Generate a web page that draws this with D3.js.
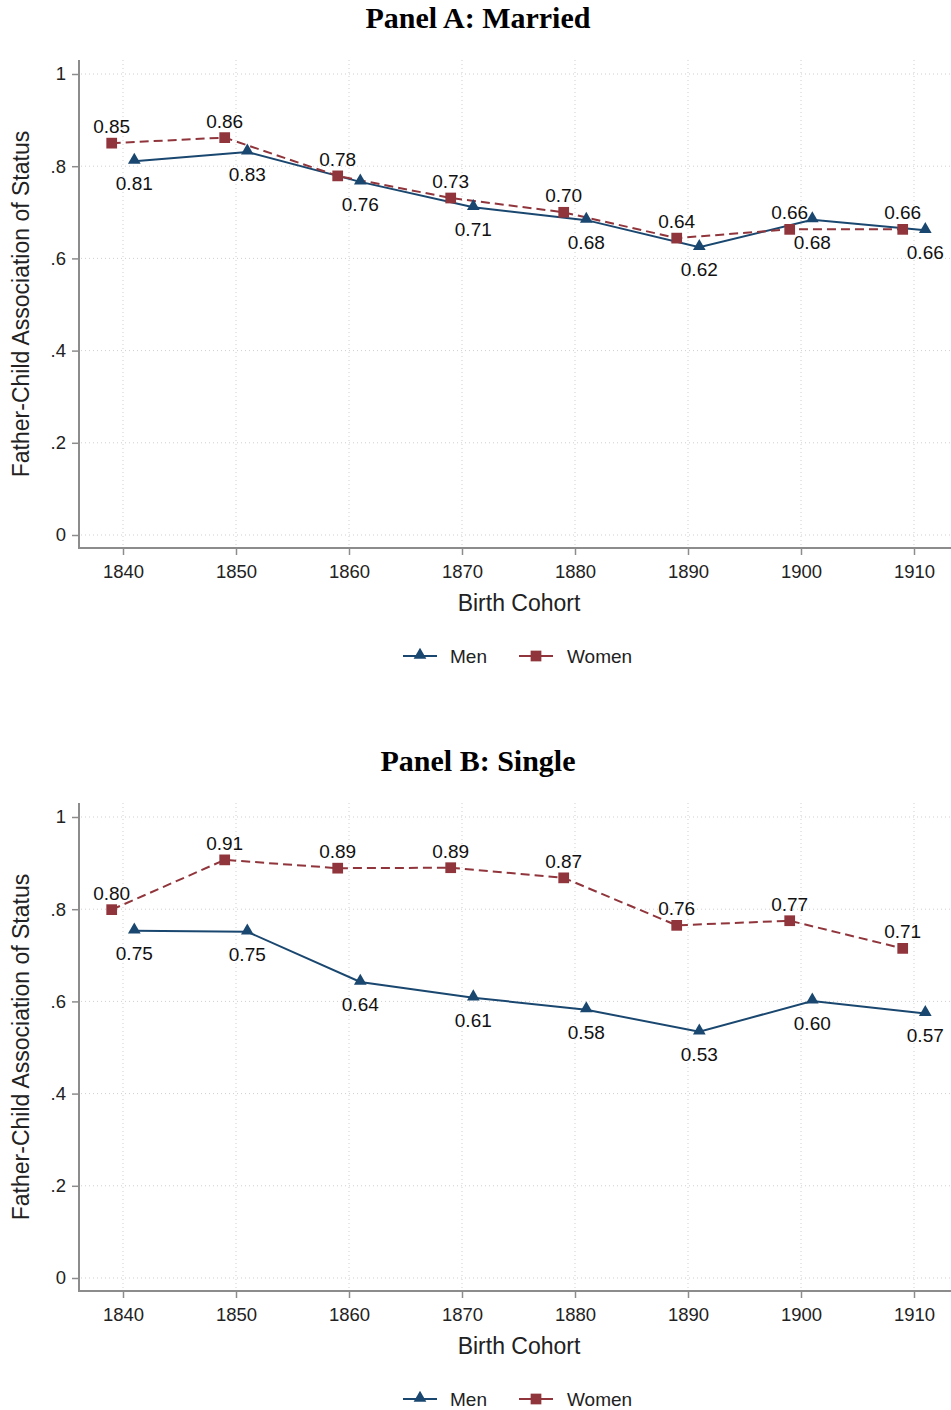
<!DOCTYPE html>
<html>
<head>
<meta charset="utf-8">
<script src="https://cdn.jsdelivr.net/npm/d3@7"></script>
<style>
  body { margin: 0; background: #fff; }
  text { font-family: "Liberation Sans", Arial, sans-serif; }
</style>
</head>
<body>
<div id="chart"></div>
<script>
// Data
const cohorts = [1840, 1850, 1860, 1870, 1880, 1890, 1900, 1910];
const yTicks = [0, 0.2, 0.4, 0.6, 0.8, 1];
const yTickLabels = ["0", ".2", ".4", ".6", ".8", "1"];

const marriedMen   = [0.811, 0.831, 0.766, 0.711, 0.683, 0.624, 0.684, 0.661];
const marriedWomen = [0.850, 0.862, 0.779, 0.731, 0.700, 0.644, 0.663, 0.663];
const marriedMenLabels   = ["0.81", "0.83", "0.76", "0.71", "0.68", "0.62", "0.68", "0.66"];
const marriedWomenLabels = ["0.85", "0.86", "0.78", "0.73", "0.70", "0.64", "0.66", "0.66"];

const singleMen   = [0.753, 0.751, 0.642, 0.608, 0.582, 0.534, 0.601, 0.574];
const singleWomen = [0.799, 0.907, 0.889, 0.890, 0.868, 0.765, 0.775, 0.715];
const singleMenLabels   = ["0.75", "0.75", "0.64", "0.61", "0.58", "0.53", "0.60", "0.57"];
const singleWomenLabels = ["0.80", "0.91", "0.89", "0.89", "0.87", "0.76", "0.77", "0.71"];

const menColor = "#1a476f", womenColor = "#90353b";

const W = 951, H = 1410;
const svg = d3.select("#chart").append("svg")
    .attr("width", W)
    .attr("height", H);

const x = d3.scaleLinear().domain([1840, 1910]).range([123, 914]);

function drawPanel(top, title, men, women, menLabels, womenLabels) {
    const g = svg.append("g").attr("transform", `translate(0,${top})`);
    const y = d3.scaleLinear().domain([0, 1]).range([535, 74]);
    const left = 79, bottom = 548, plotTop = 60, right = W;

    // title
    g.append("text")
        .attr("x", 478).attr("y", 28)
        .attr("text-anchor", "middle")
        .style("font-family", "'Liberation Serif', 'Times New Roman', serif")
        .style("font-weight", "bold")
        .style("font-size", "30px")
        .text(title);

    // grid
    g.selectAll(".hgrid").data(yTicks).enter().append("line")
        .attr("x1", left + 2).attr("x2", right)
        .attr("y1", d => y(d)).attr("y2", d => y(d))
        .attr("stroke", "#cfcfcf").attr("stroke-width", 1)
        .attr("stroke-dasharray", "1,3");
    g.selectAll(".vgrid").data(cohorts).enter().append("line")
        .attr("x1", d => x(d)).attr("x2", d => x(d))
        .attr("y1", plotTop).attr("y2", bottom - 2)
        .attr("stroke", "#cfcfcf").attr("stroke-width", 1)
        .attr("stroke-dasharray", "1,3");

    // y axis
    const yAxis = g.append("g")
        .attr("transform", `translate(${left},0)`)
        .call(d3.axisLeft(y).tickValues(yTicks)
            .tickFormat((d, i) => yTickLabels[i]).tickSize(7).tickPadding(6));
    yAxis.select(".domain").remove();
    yAxis.append("line")
        .attr("x1", 0).attr("x2", 0).attr("y1", plotTop).attr("y2", bottom + 1)
        .attr("stroke", "#8c8c8c").attr("stroke-width", 2);
    yAxis.selectAll(".tick line").attr("stroke", "#8c8c8c").attr("stroke-width", 1.5);
    yAxis.selectAll(".tick text").style("font-size", "18.5px").attr("fill", "#222")
        .style("font-family", "'Liberation Sans', Arial, sans-serif");

    // x axis
    const xAxis = g.append("g")
        .attr("transform", `translate(0,${bottom})`)
        .call(d3.axisBottom(x).tickValues(cohorts).tickFormat(d3.format("d"))
            .tickSize(7).tickPadding(10));
    xAxis.select(".domain").remove();
    xAxis.append("line")
        .attr("x1", left - 1).attr("x2", right).attr("y1", 0).attr("y2", 0)
        .attr("stroke", "#8c8c8c").attr("stroke-width", 2);
    xAxis.selectAll(".tick line").attr("stroke", "#8c8c8c").attr("stroke-width", 1.5);
    xAxis.selectAll(".tick text").style("font-size", "18.5px").attr("fill", "#222")
        .style("font-family", "'Liberation Sans', Arial, sans-serif");

    // axis titles
    g.append("text")
        .attr("transform", `translate(29,304) rotate(-90)`)
        .attr("text-anchor", "middle")
        .style("font-size", "23px").attr("fill", "#222")
        .text("Father-Child Association of Status");
    g.append("text")
        .attr("x", 519).attr("y", 611)
        .attr("text-anchor", "middle")
        .style("font-size", "23px").attr("fill", "#222")
        .text("Birth Cohort");

    // series
    const menPts = cohorts.map((c, i) => ({x: x(c + 1), y: y(men[i]), label: menLabels[i]}));
    const womenPts = cohorts.map((c, i) => ({x: x(c - 1), y: y(women[i]), label: womenLabels[i]}));
    const line = d3.line().x(d => d.x).y(d => d.y);

    g.append("path").datum(menPts)
        .attr("d", line).attr("fill", "none")
        .attr("stroke", menColor).attr("stroke-width", 2);
    g.append("path").datum(womenPts)
        .attr("d", line).attr("fill", "none")
        .attr("stroke", womenColor).attr("stroke-width", 2)
        .attr("stroke-dasharray", "9,5");

    const tri = d3.symbol().type(d3.symbolTriangle).size(70);
    const sq = d3.symbol().type(d3.symbolSquare).size(115);

    g.selectAll(".men-m").data(menPts).enter().append("path")
        .attr("d", tri)
        .attr("transform", d => `translate(${d.x},${d.y - 1})`)
        .attr("fill", menColor);
    g.selectAll(".women-m").data(womenPts).enter().append("path")
        .attr("d", sq)
        .attr("transform", d => `translate(${d.x},${d.y})`)
        .attr("fill", womenColor);

    g.selectAll(".men-l").data(menPts).enter().append("text")
        .attr("x", d => d.x).attr("y", d => d.y + 29)
        .attr("text-anchor", "middle")
        .style("font-size", "19px").attr("fill", "#111")
        .text(d => d.label);
    g.selectAll(".women-l").data(womenPts).enter().append("text")
        .attr("x", d => d.x).attr("y", d => d.y - 10)
        .attr("text-anchor", "middle")
        .style("font-size", "19px").attr("fill", "#111")
        .text(d => d.label);

    // legend
    const lg = g.append("g").attr("transform", "translate(0,656)");
    lg.append("line").attr("x1", 403).attr("x2", 437).attr("y1", 0).attr("y2", 0)
        .attr("stroke", menColor).attr("stroke-width", 2);
    lg.append("path").attr("d", tri).attr("transform", "translate(420,-1)").attr("fill", menColor);
    lg.append("text").attr("x", 450).attr("y", 7).style("font-size", "19px").attr("fill", "#222").text("Men");
    lg.append("line").attr("x1", 519).attr("x2", 553).attr("y1", 0).attr("y2", 0)
        .attr("stroke", womenColor).attr("stroke-width", 2);
    lg.append("path").attr("d", sq).attr("transform", "translate(536,0)").attr("fill", womenColor);
    lg.append("text").attr("x", 567).attr("y", 7).style("font-size", "19px").attr("fill", "#222").text("Women");
}

drawPanel(0, "Panel A: Married", marriedMen, marriedWomen, marriedMenLabels, marriedWomenLabels);
drawPanel(743, "Panel B: Single", singleMen, singleWomen, singleMenLabels, singleWomenLabels);
</script>
</body>
</html>
